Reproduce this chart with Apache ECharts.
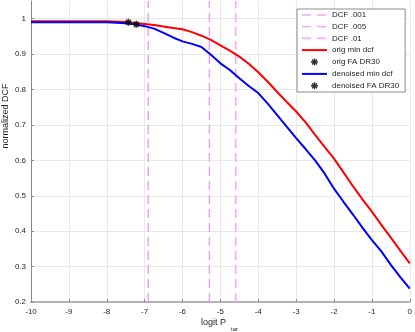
<!DOCTYPE html>
<html>
<head>
<meta charset="utf-8">
<script src="https://cdn.jsdelivr.net/npm/echarts@6/dist/echarts.min.js"></script>
<style>
  html, body { margin: 0; padding: 0; background: #fff; }
  #chart { width: 415px; height: 332px; }
</style>
</head>
<body>
<div id="chart"></div>
<script>
// x positions (logit P_tar) and the two min-DCF curves
var logitPtar = [-10, -9.5, -9, -8.5, -8, -7.5, -7.25, -7, -6.75, -6.5, -6.25, -6, -5.75, -5.5, -5.25,
  -5, -4.75, -4.5, -4.25, -4, -3.75, -3.5, -3.25, -3, -2.75, -2.5, -2.25, -2, -1.75, -1.5, -1.25,
  -1, -0.75, -0.5, -0.25, 0];
var origMinDcf = [0.993, 0.993, 0.993, 0.993, 0.993, 0.991, 0.988, 0.985, 0.982, 0.978, 0.974, 0.970,
  0.962, 0.952, 0.940, 0.925, 0.910, 0.893, 0.873, 0.849, 0.822, 0.793, 0.765, 0.738, 0.707, 0.672,
  0.638, 0.605, 0.566, 0.527, 0.490, 0.455, 0.418, 0.382, 0.345, 0.309];
var denoisedMinDcf = [0.990, 0.990, 0.990, 0.990, 0.990, 0.987, 0.984, 0.979, 0.972, 0.960, 0.947, 0.936,
  0.929, 0.920, 0.898, 0.874, 0.855, 0.832, 0.810, 0.790, 0.760, 0.728, 0.695, 0.663, 0.632, 0.600,
  0.563, 0.520, 0.483, 0.447, 0.410, 0.375, 0.343, 0.305, 0.270, 0.238];

// operating points (FA DR30)
var origFa = [-7.43, 0.990];
var denoisedFa = [-7.22, 0.984];

// DCF target priors, drawn as vertical dashed lines at logit(P)
var dcfNames = ['DCF .001', 'DCF .005', 'DCF .01'];
var dcfPtar = [0.001, 0.005, 0.01];
var dcfColors = ['#ea7cee', '#ef84f2', '#fda6fd'];

var xTicks = [-10, -9, -8, -7, -6, -5, -4, -3, -2, -1, 0];
var yMin = 0.2, yMax = 1.05;

var font = 'Liberation Sans, Arial, Helvetica, sans-serif';
var txt = '#262626';
var asterisk = 'path://M0,5L10,5M5,0L5,10M1.5,1.5L8.5,8.5M8.5,1.5L1.5,8.5';

function logit(p) { return Math.log(p / (1 - p)); }
function pairs(xs, ys) {
  var out = [];
  for (var i = 0; i < xs.length; i++) out.push([xs[i], ys[i]]);
  return out;
}

var series = [];
var legendData = [];
for (var k = 0; k < dcfNames.length; k++) {
  var lx = logit(dcfPtar[k]);
  var w = k == 2 ? 1.6 : 1.1;
  series.push({
    name: dcfNames[k],
    type: 'line',
    symbol: 'none',
    silent: true,
    z: 1,
    data: [[lx, yMin], [lx, yMax]],
    lineStyle: { color: dcfColors[k], width: w, type: [9, 5] },
    itemStyle: { color: dcfColors[k] }
  });
  legendData.push({
    name: dcfNames[k],
    itemStyle: { opacity: 0 },
    lineStyle: { color: dcfColors[k], width: w, type: [9, 6] }
  });
}
series.push({
  name: 'orig min dcf',
  type: 'line',
  symbol: 'none',
  z: 2,
  data: pairs(logitPtar, origMinDcf),
  lineStyle: { color: '#ff0000', width: 2 },
  itemStyle: { color: '#ff0000' }
});
legendData.push({ name: 'orig min dcf', itemStyle: { opacity: 0 }, lineStyle: { color: '#ff0000', width: 2, type: 'solid' } });
series.push({
  name: 'orig FA DR30',
  type: 'scatter',
  symbol: asterisk,
  symbolSize: 7,
  z: 5,
  data: [origFa],
  itemStyle: { color: '#000', borderColor: '#000', borderWidth: 1.6 }
});
legendData.push({ name: 'orig FA DR30', itemStyle: { borderWidth: 1.4 } });
series.push({
  name: 'denoised min dcf',
  type: 'line',
  symbol: 'none',
  z: 3,
  data: pairs(logitPtar, denoisedMinDcf),
  lineStyle: { color: '#0000ff', width: 2 },
  itemStyle: { color: '#0000ff' }
});
legendData.push({ name: 'denoised min dcf', itemStyle: { opacity: 0 }, lineStyle: { color: '#0000ff', width: 2, type: 'solid' } });
series.push({
  name: 'denoised FA DR30',
  type: 'scatter',
  symbol: asterisk,
  symbolSize: 7,
  z: 5,
  data: [denoisedFa],
  itemStyle: { color: '#000', borderColor: '#000', borderWidth: 1.6 }
});
legendData.push({ name: 'denoised FA DR30', itemStyle: { borderWidth: 1.4 } });

var myChart = echarts.init(document.getElementById('chart'), null, { renderer: 'canvas' });
var option = {
  animation: false,
  backgroundColor: '#fff',
  grid: { left: 31, right: 2, top: 1, bottom: 30, containLabel: false },
  legend: {
    orient: 'vertical',
    left: 297,
    top: 9,
    padding: [2, 6, 2, 4],
    itemWidth: 25,
    itemHeight: 7,
    itemGap: 3.7,
    backgroundColor: '#fff',
    borderColor: '#8c8c8c',
    borderWidth: 1,
    borderRadius: 0,
    selectedMode: false,
    textStyle: { fontFamily: font, fontSize: 8, color: txt },
    data: legendData
  },
  xAxis: {
    type: 'value',
    min: xTicks[0],
    max: xTicks[xTicks.length - 1],
    interval: 1,
    axisLine: { show: true, onZero: false, lineStyle: { color: '#b3b3b3', width: 2 } },
    axisTick: { show: true, inside: true, length: 3, lineStyle: { color: '#8a8a8a' } },
    axisLabel: { fontFamily: font, fontSize: 8, color: txt, margin: 6 },
    splitLine: { show: true, lineStyle: { color: '#e8e8e8', width: 1 } }
  },
  yAxis: {
    type: 'value',
    min: yMin,
    max: yMax,
    interval: 0.1,
    axisLine: { show: true, onZero: false, lineStyle: { color: '#888', width: 1 } },
    axisTick: { show: true, inside: true, length: 3, lineStyle: { color: '#8a8a8a' } },
    axisLabel: { fontFamily: font, fontSize: 8, color: txt, margin: 5, showMaxLabel: false },
    splitLine: { show: true, showMaxLine: false, lineStyle: { color: '#e8e8e8', width: 1 } }
  },
  graphic: [
    { type: 'text', x: 6, y: 116, rotation: Math.PI / 2,
      style: { text: 'normalized DCF', fontFamily: font, fontSize: 9, fill: txt, align: 'center', verticalAlign: 'middle' } },
    { type: 'text', x: 201, y: 323,
      style: { text: 'logit P', fontFamily: font, fontSize: 9, fill: txt, align: 'left', verticalAlign: 'middle' } },
    { type: 'text', x: 231, y: 329,
      style: { text: 'tar', fontFamily: font, fontSize: 6, fill: txt, align: 'left', verticalAlign: 'middle' } }
  ],
  series: series
};
myChart.setOption(option);
</script>
</body>
</html>
